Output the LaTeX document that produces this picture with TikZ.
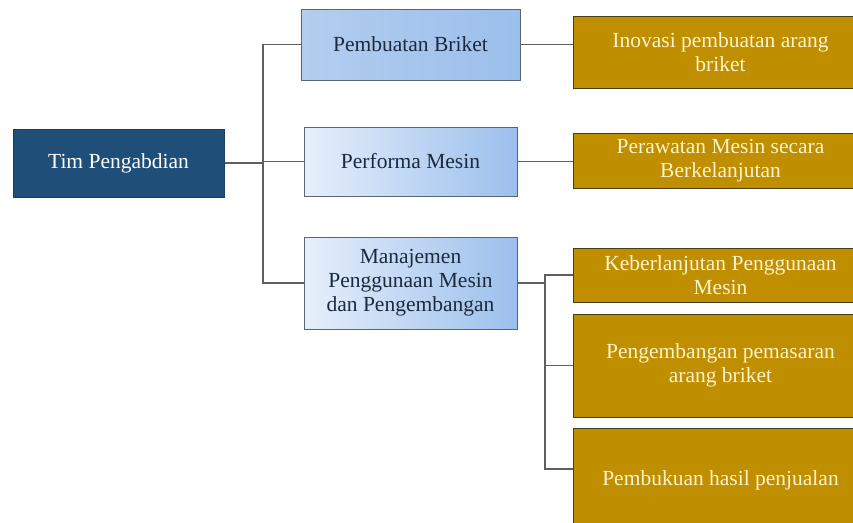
\documentclass[tikz,border=0pt]{standalone}
\usepackage{fontspec}
\setmainfont{Liberation Serif}
\definecolor{navy}{HTML}{1F4E79}
\definecolor{navytepi}{HTML}{1A3F62}
\definecolor{birusatu}{HTML}{B3CDEE}
\definecolor{birumuda}{HTML}{E6EFFB}
\definecolor{birutua}{HTML}{9BBFEC}
\definecolor{teksbiru}{HTML}{1B2A3E}
\definecolor{abutepi}{HTML}{5B6675}
\definecolor{emas}{HTML}{BF8F00}
\definecolor{coklattepi}{HTML}{4A3C14}
\definecolor{krem}{HTML}{FFF2CC}
\definecolor{abugaris}{HTML}{5F5F5F}

\begin{document}
\begin{tikzpicture}[x=1pt, y=-1pt,
    teks/.style={font=\fontsize{21.5}{24}\selectfont, align=center, inner sep=0pt},
    akar/.style={teks, draw=navytepi, fill=navy, text=white, line width=1pt},
    bidang/.style={teks, draw=abutepi, line width=1pt, left color=birumuda, right color=birutua, text=teksbiru},
    hasil/.style={teks, draw=coklattepi, line width=1pt, fill=emas, text=krem},
    garis/.style={draw=abugaris, line width=1.8pt}]
  \clip (0,0) rectangle (853,522);
  \fill[white] (0,0) rectangle (853,522);

  % Kotak utama
  \node[akar, minimum width=211, minimum height=68] (tim) at (118.5,163) {Tim Pengabdian};

  % Bidang kegiatan
  \node[bidang, left color=birusatu, minimum width=219, minimum height=71] (briket) at (410.5,44.5) {Pembuatan Briket};
  \node[bidang, minimum width=213, minimum height=69] (mesin) at (410.5,161.5) {Performa Mesin};
  \node[bidang, minimum width=213, minimum height=92] (manajemen) at (410.5,283) {Manajemen\\Penggunaan Mesin\\dan Pengembangan};

  % Hasil kegiatan
  \node[hasil, minimum width=295, minimum height=72] (inovasi) at (720.5,52) {Inovasi pembuatan arang\\briket};
  \node[hasil, minimum width=295, minimum height=55] (perawatan) at (720.5,160.5) {Perawatan Mesin secara\\Berkelanjutan};
  \node[hasil, minimum width=295, minimum height=54] (keberlanjutan) at (720.5,275) {Keberlanjutan Penggunaan\\Mesin};
  \node[hasil, minimum width=295, minimum height=103] (pemasaran) at (720.5,365.5) {Pengembangan pemasaran\\arang briket};
  \node[hasil, minimum width=295, minimum height=104] (pembukuan) at (720.5,480) {Pembukuan hasil penjualan};

  % Garis penghubung ke bidang
  \coordinate (batang) at (263,163);
  \draw[garis] (tim) -- (batang);
  \draw[garis] (briket.west) -| (batang) |- (manajemen.west);
  \draw[garis] (batang |- mesin.west) -- (mesin.west);

  % Garis penghubung ke hasil
  \draw[garis] (briket.east) -- (inovasi.west |- briket.east);
  \draw[garis] (mesin.east) -- (perawatan.west |- mesin.east);
  \coordinate (cabang) at (545,283);
  \draw[garis] (manajemen.east) -- (cabang);
  \draw[garis] (keberlanjutan.west) -| (cabang) |- ([yshift=11pt]pembukuan.west);
  \draw[garis] (cabang |- pemasaran.west) -- (pemasaran.west);
\end{tikzpicture}
\end{document}
